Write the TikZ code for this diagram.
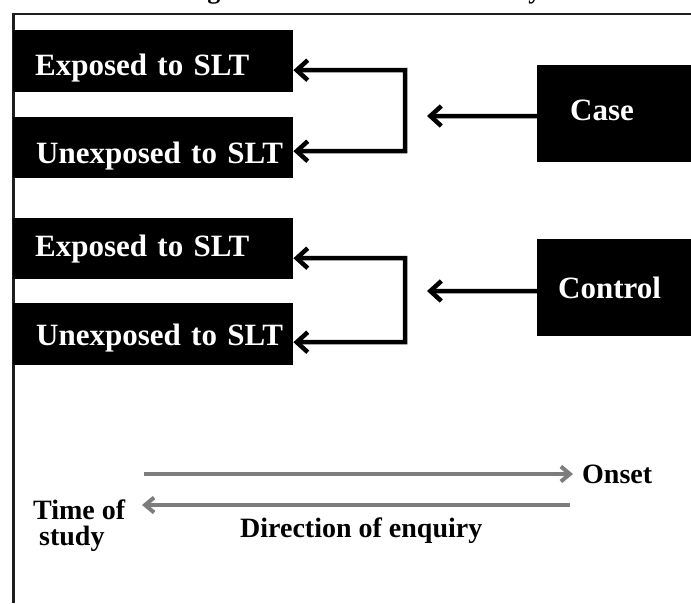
\documentclass[tikz,border=0pt]{standalone}
\usepackage{fontspec}
\setmainfont{Liberation Serif}
\usetikzlibrary{arrows.meta}
\definecolor{arrgray}{RGB}{125,125,125}
\definecolor{framegray}{RGB}{30,30,30}
\begin{document}
\begin{tikzpicture}[x=1pt,y=-1pt,
  bb/.tip={Straight Barb[length=11pt,width=20pt]},
  gb/.tip={Straight Barb[length=9pt,width=15pt]},
  box/.style={fill=black,text=white,anchor=north west,inner xsep=0pt,inner ysep=0pt,
    align=left,font=\fontsize{31}{34}\selectfont\bfseries},
  blk/.style={line width=4.5pt,draw=black},
  gry/.style={line width=4pt,draw=arrgray},
  lbl/.style={inner sep=0pt,font=\fontsize{28}{26}\selectfont\bfseries}]
\useasboundingbox (0,0) rectangle (691,603);
% partially visible caption at the top
\node[anchor=base west,inner sep=0pt,font=\fontsize{26}{28}\selectfont\bfseries] (cap) at (52,-1.5) {Schematic diagram of the case control study.};
% frame
\draw[line width=2.5pt,draw=framegray] (13.5,603) -- (13.5,14) -- (691,14);
% boxes
\node[box,text width=280pt,minimum height=62pt,text height=30pt,text depth=2pt] (e1) at (13,30) {\noindent\hspace*{22pt}Exposed to SLT};
\node[box,text width=280pt,minimum height=61pt,text height=31pt,text depth=0pt] (u1) at (13,117) {\noindent\hspace*{23pt}Unexposed to SLT};
\node[box,text width=280pt,minimum height=61pt,text height=24pt,text depth=8pt] (e2) at (13,218) {\noindent\hspace*{22pt}Exposed to SLT};
\node[box,text width=280pt,minimum height=62pt,text height=26pt,text depth=4pt] (u2) at (13,303) {\noindent\hspace*{23pt}Unexposed to SLT};
\node[box,text width=154pt,minimum height=97pt,text height=22pt,text depth=9pt] (case) at (537,65) {\noindent\hspace*{33pt}Case};
\node[box,text width=154pt,minimum height=97pt,text height=25pt,text depth=4pt] (ctrl) at (537,239) {\noindent\hspace*{21pt}Control};
% connectors
\coordinate (j1) at (405,70);
\coordinate (j2) at (405,258);
\coordinate (c1) at (427,116);
\coordinate (c2) at (427,291);
\draw[blk,arrows={bb-bb}] ([yshift=-9pt]e1.east) -- (j1) |- ([yshift=-3.5pt]u1.east);
\draw[blk,arrows={bb-bb}] ([yshift=-9.5pt]e2.east) -- (j2) |- ([yshift=-8pt]u2.east);
\draw[blk,arrows={-bb}] ([yshift=-2.5pt]case.west) -- (c1);
\draw[blk,arrows={-bb}] ([yshift=-3.5pt]ctrl.west) -- (c2);
% time axis
\node[lbl,anchor=base west] (onset) at (582,483) {Onset};
\node[lbl,anchor=base west,align=left] (tos) at (33,545) {Time of\\\hspace*{6pt}study};
\node[lbl,anchor=base west] (dir) at (240,537) {Direction of enquiry};
\coordinate (g1) at (144,474);
\coordinate (g2) at (570,505);
\coordinate (g3) at (142,505);
\draw[gry,arrows={-gb}] (g1) -- ([xshift=-9pt]onset.west |- g1);
\draw[gry,arrows={-gb}] (g2) -- (g3);
\end{tikzpicture}
\end{document}
